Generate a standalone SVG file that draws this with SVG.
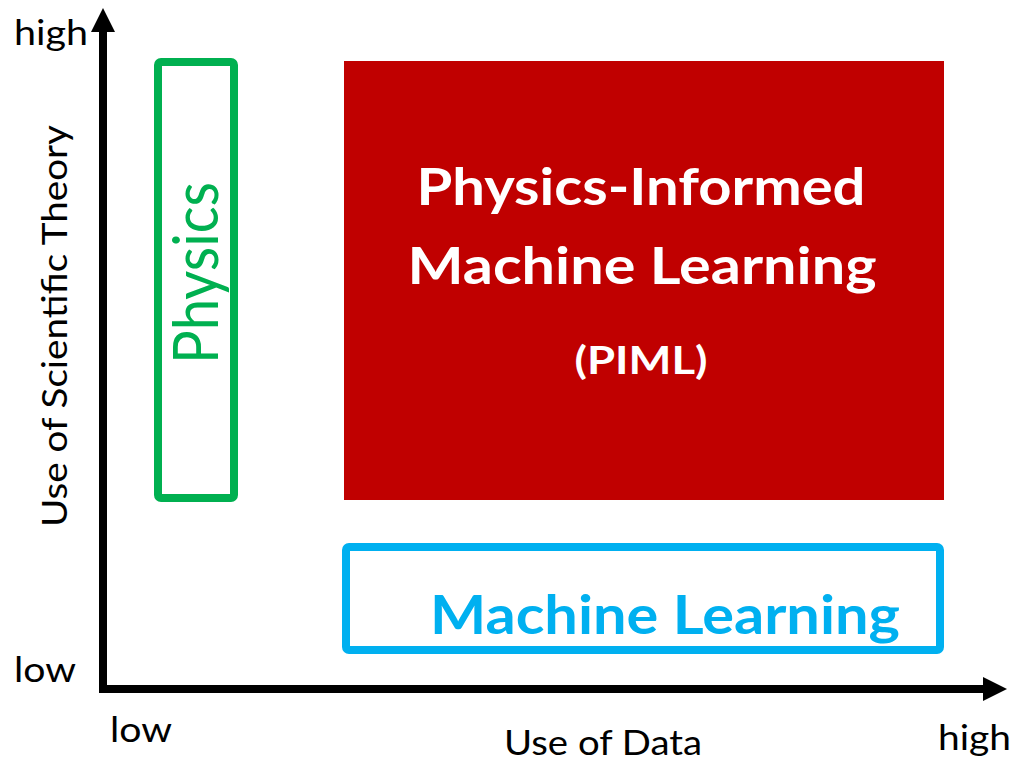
<svg xmlns="http://www.w3.org/2000/svg" width="1013" height="761" viewBox="0 0 1013 761">
<style>
.lbl{font-family:Lato,"Open Sans","Liberation Sans",sans-serif;fill:#000;font-size:34px}
.w{font-family:Lato,"Open Sans","Liberation Sans",sans-serif;fill:#fff;font-weight:bold;text-anchor:middle}
</style>
<defs>
<marker id="ah" viewBox="0 0 24 24" refX="0" refY="12" markerWidth="24" markerHeight="24" markerUnits="userSpaceOnUse" orient="auto">
<path d="M0,0 L24,12 L0,24 Z" fill="#000"/>
</marker>
</defs>
<rect width="1013" height="761" fill="#fff"/>
<g id="connectors">
<path d="M103,692 V32" stroke="#000" stroke-width="8" fill="none" marker-end="url(#ah)"/>
<path d="M99,689 H983" stroke="#000" stroke-width="8" fill="none" marker-end="url(#ah)"/>
</g>
<g id="axis-labels">
<text class="lbl" x="14" y="45" textLength="74" lengthAdjust="spacingAndGlyphs">high</text>
<text class="lbl" x="14" y="682" textLength="62" lengthAdjust="spacingAndGlyphs">low</text>
<text class="lbl" x="110" y="742" textLength="62" lengthAdjust="spacingAndGlyphs">low</text>
<text class="lbl" x="938" y="750" textLength="73" lengthAdjust="spacingAndGlyphs">high</text>
<text class="lbl" x="504" y="755" textLength="198" lengthAdjust="spacingAndGlyphs">Use of Data</text>
<text class="lbl" transform="translate(67,527) rotate(-90)" textLength="402" lengthAdjust="spacingAndGlyphs">Use of Scientific Theory</text>
</g>
<g id="physics">
<rect x="158" y="62" width="76" height="436" rx="3" fill="none" stroke="#00B050" stroke-width="8"/>
<text transform="translate(218,364) rotate(-90)" font-family="Lato,'Open Sans','Liberation Sans',sans-serif" font-size="62" fill="#00B050" textLength="182" lengthAdjust="spacingAndGlyphs">Physics</text>
</g>
<g id="piml">
<rect x="344" y="61" width="600" height="439" fill="#C00000"/>
<text class="w" x="641" y="205" font-size="52" textLength="449" lengthAdjust="spacingAndGlyphs">Physics-Informed</text>
<text class="w" x="642" y="284" font-size="52" textLength="469" lengthAdjust="spacingAndGlyphs">Machine Learning</text>
<text class="w" x="641" y="374" font-size="38" textLength="133" lengthAdjust="spacingAndGlyphs">(PIML)</text>
</g>
<g id="machine-learning">
<rect x="346" y="547" width="594" height="103" rx="3" fill="none" stroke="#00B0F0" stroke-width="8"/>
<text x="430" y="634" font-family="Lato,'Open Sans','Liberation Sans',sans-serif" font-weight="bold" font-size="54" fill="#00B0F0" textLength="470" lengthAdjust="spacingAndGlyphs">Machine Learning</text>
</g>
</svg>
